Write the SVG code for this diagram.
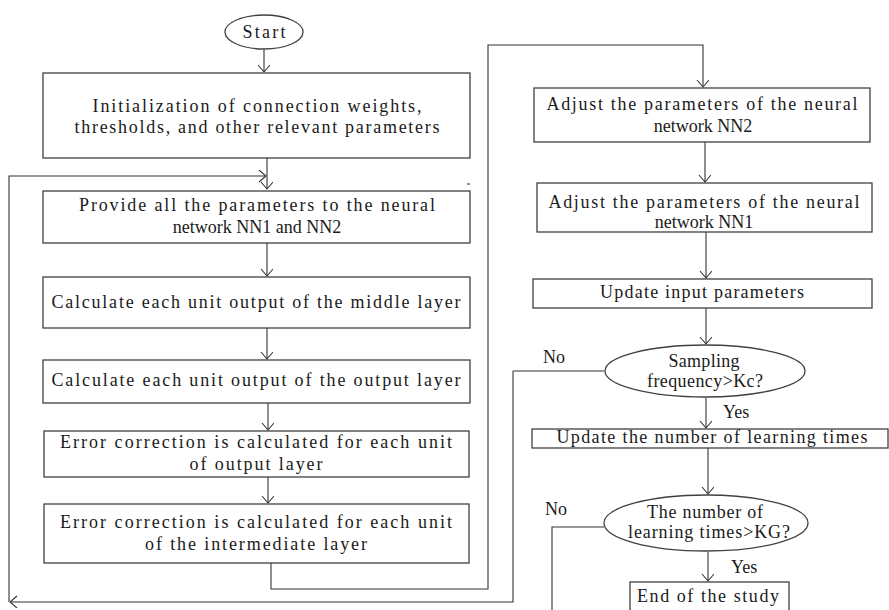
<svg xmlns="http://www.w3.org/2000/svg" width="889" height="610" viewBox="0 0 889 610">
<defs>
<style>
.box{fill:#fff;stroke:#404040;stroke-width:1.3}
.ln{fill:none;stroke:#333;stroke-width:1.1}
text{font-family:"Liberation Serif","Times New Roman",serif;font-size:18px;fill:#1a1a1a;text-anchor:middle}
.lb{text-anchor:start}
</style>
<marker id="ah" markerUnits="userSpaceOnUse" markerWidth="14" markerHeight="14" refX="8" refY="6" orient="auto">
<path d="M1,0 L8,6 L1,12" fill="none" stroke="#333" stroke-width="1.1"/>
</marker>
</defs>
<rect width="889" height="610" fill="#fff"/>
<g id="connectors">
<path class="ln" d="M264,50 V72" marker-end="url(#ah)"/>
<path class="ln" d="M267,158 V189" marker-end="url(#ah)"/>
<path class="ln" d="M9,602 V176 H266" marker-end="url(#ah)"/>
<path class="ln" d="M513,371 H604 M513,371 V602 H10" marker-end="url(#ah)"/>
<path class="ln" d="M267,243 V276" marker-end="url(#ah)"/>
<path class="ln" d="M267,328 V359" marker-end="url(#ah)"/>
<path class="ln" d="M268,403 V430" marker-end="url(#ah)"/>
<path class="ln" d="M268,477 V503" marker-end="url(#ah)"/>
<path class="ln" d="M271,563 V589 H488 V45 H703 V87" marker-end="url(#ah)"/>
<path class="ln" d="M705,142 V182" marker-end="url(#ah)"/>
<path class="ln" d="M706,232 V278" marker-end="url(#ah)"/>
<path class="ln" d="M706,308 V344" marker-end="url(#ah)"/>
<path class="ln" d="M706,398 V428" marker-end="url(#ah)"/>
<path class="ln" d="M708,448 V494" marker-end="url(#ah)"/>
<path class="ln" d="M604,527 H552 V610"/>
<path class="ln" d="M708,552 V581" marker-end="url(#ah)"/>
<path class="ln" d="M467,184 H470"/>
</g>
<g id="start">
<ellipse cx="264" cy="32" rx="39" ry="17" class="box"/>
<text x="264" y="38" textLength="43">Start</text>
</g>
<g id="init">
<rect x="43" y="73" width="427" height="85" class="box"/>
<text x="257" y="112" textLength="329">Initialization of connection weights,</text>
<text x="257" y="133" textLength="365">thresholds, and other relevant parameters</text>
</g>
<g id="provide">
<rect x="43" y="191" width="427" height="52" class="box"/>
<text x="257" y="211" textLength="356">Provide all the parameters to the neural</text>
<text x="257" y="233">network NN1 and NN2</text>
</g>
<g id="middle">
<rect x="43" y="277" width="427" height="51" class="box"/>
<text x="256" y="308" textLength="409">Calculate each unit output of the middle layer</text>
</g>
<g id="output">
<rect x="43" y="360" width="427" height="43" class="box"/>
<text x="256" y="386" textLength="409">Calculate each unit output of the output layer</text>
</g>
<g id="err1">
<rect x="44" y="431" width="425" height="46" class="box"/>
<text x="256" y="448" textLength="392">Error correction is calculated for each unit</text>
<text x="256" y="470" textLength="133">of output layer</text>
</g>
<g id="err2">
<rect x="44" y="504" width="425" height="59" class="box"/>
<text x="256" y="528" textLength="392">Error correction is calculated for each unit</text>
<text x="256" y="550" textLength="222">of the intermediate layer</text>
</g>
<g id="nn2">
<rect x="534" y="88" width="336" height="54" class="box"/>
<text x="702" y="110" textLength="311">Adjust the parameters of the neural</text>
<text x="703" y="132">network NN2</text>
</g>
<g id="nn1">
<rect x="537" y="183" width="335" height="49" class="box"/>
<text x="704" y="208" textLength="311">Adjust the parameters of the neural</text>
<text x="704" y="228">network NN1</text>
</g>
<g id="update-input">
<rect x="533" y="279" width="339" height="29" class="box"/>
<text x="702" y="298" textLength="204">Update input parameters</text>
</g>
<g id="sampling">
<ellipse cx="705" cy="371" rx="100" ry="26" class="box"/>
<text x="704" y="367" textLength="71">Sampling</text>
<text x="705" y="387" textLength="116">frequency&gt;Kc?</text>
<text class="lb" x="543" y="363">No</text>
<text class="lb" x="723" y="418">Yes</text>
</g>
<g id="update-times">
<rect x="532" y="429" width="356" height="19" class="box"/>
<text x="712" y="443" textLength="311">Update the number of learning times</text>
</g>
<g id="times-check">
<ellipse cx="706" cy="523" rx="102" ry="28" class="box"/>
<text x="705" y="518" textLength="116">The number of</text>
<text x="709" y="538" textLength="162">learning times&gt;KG?</text>
<text class="lb" x="545" y="515">No</text>
<text class="lb" x="731" y="573">Yes</text>
</g>
<g id="end">
<rect x="630" y="582" width="159" height="40" class="box"/>
<text x="708" y="602" textLength="142">End of the study</text>
</g>
</svg>
